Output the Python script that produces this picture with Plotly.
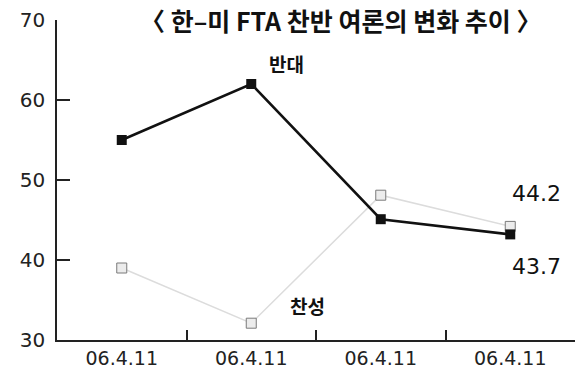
import plotly.graph_objects as go

categories = ["06.4.11 ", "06.4.11  ", "06.4.11   ", "06.4.11    "]
tick_labels = ["06.4.11", "06.4.11", "06.4.11", "06.4.11"]
oppose = [55.0, 62.0, 45.1, 43.2]
support = [39.0, 32.1, 48.1, 44.2]
y_ticks = [30, 40, 50, 60, 70]

fig = go.Figure()
fig.add_trace(go.Scatter(
    x=categories, y=support, mode="lines+markers",
    line=dict(color="#dcdcdc", width=1.5),
    marker=dict(symbol="square", size=10, color="#ececec",
                line=dict(color="#7a7a7a", width=1)),
    showlegend=False))
fig.add_trace(go.Scatter(
    x=categories, y=oppose, mode="lines+markers",
    line=dict(color="#111111", width=2.5),
    marker=dict(symbol="square", size=10, color="#111111"),
    showlegend=False))

font_ko = "Noto Sans CJK KR"
num_font = "DejaVu Sans"
fig.add_annotation(x=318 / 581, xref="paper", y=0.0, yref="paper", yshift=320,
                   text="〈 한–미 FTA 찬반 여론의 변화 추이 〉", showarrow=False,
                   font=dict(family=font_ko, size=25, color="#111111", weight="bold"),
                   xanchor="center", yanchor="middle")
fig.add_annotation(x=categories[1], y=oppose[1], text="반대", showarrow=False,
                   xshift=35, yshift=21, font=dict(family=font_ko, size=19, color="#111111", weight="bold"))
fig.add_annotation(x=categories[1], y=support[1], text="찬성", showarrow=False,
                   xshift=56, yshift=18, font=dict(family=font_ko, size=19, color="#111111", weight="bold"))
fig.add_annotation(x=categories[3], y=support[3], text="44.2", showarrow=False,
                   xshift=26, yshift=33, font=dict(family=num_font, size=22, color="#111111"))
fig.add_annotation(x=categories[3], y=oppose[3], text="43.7", showarrow=False,
                   xshift=26, yshift=-32, font=dict(family=num_font, size=22, color="#111111"))

fig.update_layout(
    width=581, height=371, margin=dict(l=57, r=6, t=20, b=31, autoexpand=False),
    paper_bgcolor="white", plot_bgcolor="white",
    xaxis=dict(type="category", tickvals=categories, ticktext=tick_labels,
               range=[-0.5, 3.5], automargin=False,
               showgrid=False, showline=True, linecolor="#222222", linewidth=1.5,
               ticks="inside", tickson="boundaries", ticklen=10, tickcolor="#222222",
               tickwidth=1.5, ticklabelstandoff=0,
               tickfont=dict(family=num_font, size=19, color="#222222"),
               zeroline=False),
    yaxis=dict(range=[30, 70], tickvals=y_ticks, showgrid=False, showline=True,
               automargin=False,
               linecolor="#222222", linewidth=1.5, ticks="inside", ticklen=13,
               tickcolor="#222222", tickwidth=1.5, zeroline=False, ticklabelstandoff=6,
               tickfont=dict(family=num_font, size=20, color="#222222")),
)
fig.write_html("out.html")
